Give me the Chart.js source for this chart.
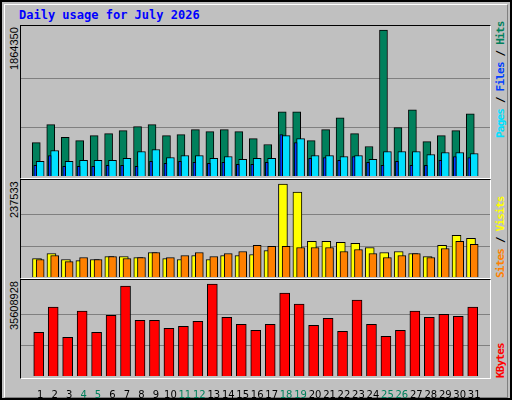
<!DOCTYPE html>
<html><head><meta charset="utf-8">
<script src="https://cdn.jsdelivr.net/npm/chart.js@4/dist/chart.umd.min.js"></script>
<style>
body{margin:0;background:#fff}
#frame{position:absolute;left:0;top:0;width:508px;height:396px;background:#c0c0c0;border:2px solid #000;}
#inner{position:absolute;left:2px;top:2px;width:502px;height:392px;border:1px solid;border-color:#fff #808080 #808080 #fff}
.box{position:absolute;border:1px solid;border-color:#000 #fff #fff #000}
canvas{position:absolute}
.rot{position:absolute;transform-origin:0 0;transform:rotate(-90deg);white-space:nowrap;line-height:12px}
.num{font:11px "Liberation Sans";color:#000}
.lab{font:bold 11px "DejaVu Sans Mono";letter-spacing:-0.8px}
#title{position:absolute;left:19px;top:8px;font:bold 12px "DejaVu Sans Mono";color:#0000ff}
</style></head><body>
<div id="frame"><div id="inner"></div></div>
<div id="title">Daily usage for July 2026</div>
<div class="box" style="left:20px;top:25px;width:469px;height:152px"></div>
<div class="box" style="left:20px;top:179px;width:469px;height:98px"></div>
<div class="box" style="left:20px;top:279px;width:469px;height:98px"></div>
<canvas id="c1" style="left:21px;top:26px;width:469px;height:150px" width="469" height="150"></canvas>
<canvas id="c2" style="left:21px;top:180px;width:469px;height:97px" width="469" height="97"></canvas>
<canvas id="c3" style="left:21px;top:280px;width:469px;height:118px" width="469" height="118"></canvas>
<div class="rot num" style="left:8px;top:70px">1864350</div>
<div class="rot num" style="left:8px;top:218px">237533</div>
<div class="rot num" style="left:8px;top:330px">35608928</div>
<div class="rot lab" style="left:494px;top:138px"><span style="color:#00e0ff">Pages</span><span style="color:#000"> / </span><span style="color:#0040ff">Files</span><span style="color:#000"> / </span><span style="color:#00805c">Hits</span></div>
<div class="rot lab" style="left:494px;top:278px"><span style="color:#ff8000">Sites</span><span style="color:#000"> / </span><span style="color:#ffff00">Visits</span></div>
<div class="rot lab" style="left:494px;top:378px"><span style="color:#ff0000">KBytes</span></div>
<script>
const days=[1,2,3,4,5,6,7,8,9,10,11,12,13,14,15,16,17,18,19,20,21,22,23,24,25,26,27,28,29,30,31];
const weekend=[4,5,11,12,18,19,25,26];
const hits=[427000,655300,494700,452400,515800,541200,579200,630000,655300,515800,528500,591900,566600,591900,566600,477800,401700,820200,820200,452400,591900,744100,541200,376300,1864350,617300,845600,439700,515800,579200,794900];
const pages=[186000,325600,186000,198700,198700,198700,224100,312900,338200,236800,262100,262100,224100,249500,211400,224100,224100,515800,477800,262100,262100,249500,262100,211400,312900,312900,312900,274800,300200,300200,287500];
const files=[135300,262100,122600,122600,122600,135300,135300,122600,186000,160700,186000,173300,160700,173300,148000,148000,173300,528500,427000,224100,236800,198700,249500,173300,135300,186000,135300,135300,198700,249500,236800];
const visits=[47160,60030,44590,42020,44590,52310,52310,49740,62600,47160,44590,54880,44590,54880,54880,57450,67740,237533,216950,90900,90900,88320,85750,75460,62600,65170,60030,52310,80610,106330,98610];
const sites=[44590,54880,39450,49740,44590,52310,47160,49740,62600,49740,54880,62600,52310,60030,65170,80610,78030,78030,75460,75460,75460,65170,70320,60030,49740,54880,60030,49740,72890,90900,83180];
const kbytes=[16890000,26640000,14950000,25080000,16890000,23520000,34830000,21570000,21570000,18450000,19230000,21180000,35608928,22740000,20010000,17670000,20010000,32100000,27810000,19620000,22350000,17280000,29370000,20010000,15340000,17670000,25080000,22740000,23910000,23130000,26640000];
const maxHits=1864350,maxVisits=237533,maxKB=35608928;

function ds(vals,color,shift,w,order){
  return {data:vals.map((v,i)=>({x:days[i]+shift,y:v})),backgroundColor:color,borderColor:'#000',borderWidth:1,barThickness:w,order:order,grouped:false};
}
function make(id,datasets,maxV,h,showX){
  const plotH=h;
  new Chart(document.getElementById(id),{type:'bar',data:{datasets},
    options:{responsive:false,animation:false,events:[],
      layout:{padding:0},
      plugins:{legend:{display:false},tooltip:{enabled:false}},
      scales:{
        x:{type:'linear',min:0.197,max:31.57,display:showX,
          grid:{display:false},border:{display:false},
          afterBuildTicks:s=>{s.ticks=days.map(d=>({value:d}));},
          afterFit:s=>{s.height=showX?22:0;},
          ticks:{autoSkip:false,maxRotation:0,padding:5,font:{family:'DejaVu Sans',size:10},
            color:c=>weekend.includes(c.tick.value)?'#00805c':'#000',
            callback:v=>String(v)}},
        y:{min:0,max:maxV*plotH/(plotH-4),
          afterFit:s=>{s.width=0;},
          afterBuildTicks:s=>{s.ticks=[{value:maxV/3},{value:2*maxV/3}];},
          ticks:{display:false},border:{display:false},
          grid:{color:'#808080',lineWidth:1,drawTicks:false}}
      }}});
}
make('c1',[ds(hits,'#00805c',-0.27,8,3),ds(pages,'#00e0ff',0,8,2),ds(files,'#0040ff',-0.34,3,1)],maxHits,150,false);
make('c2',[ds(visits,'#ffff00',-0.22,9,2),ds(sites,'#ff8000',0,8,1)],maxVisits,97,false);
make('c3',[ds(kbytes,'#ff0000',-0.1,10,1)],maxKB,96,true);
</script>
</body></html>
